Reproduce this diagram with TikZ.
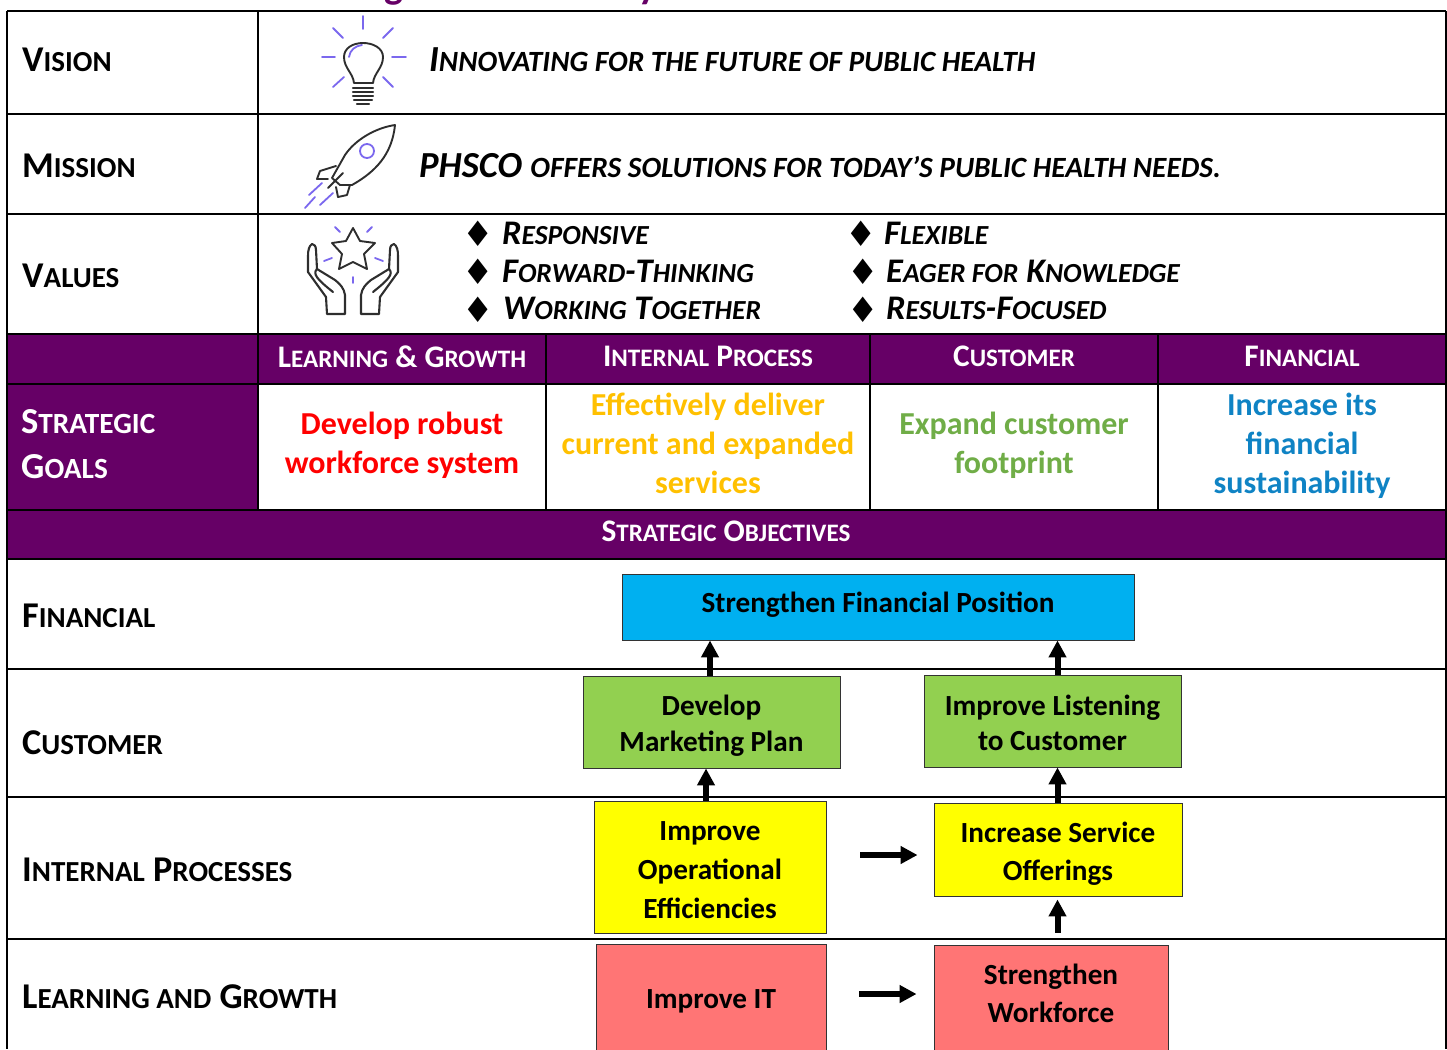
\documentclass[tikz,border=0pt]{standalone}
\usepackage{fontspec}
\setmainfont{Carlito}
\newfontfamily\symfont{DejaVu Sans}
\usetikzlibrary{arrows.meta,calc}
\definecolor{plum}{HTML}{660066}
\definecolor{ray}{HTML}{7B68EE}
\definecolor{icon}{HTML}{2E2E2E}
\definecolor{bluebox}{HTML}{00B0F0}
\definecolor{greenbox}{HTML}{92D050}
\definecolor{yellowbox}{HTML}{FFFF00}
\definecolor{redbox}{HTML}{FF7575}
\definecolor{goalred}{HTML}{FF0000}
\definecolor{goalorange}{HTML}{FFC000}
\definecolor{goalgreen}{HTML}{70AD47}
\definecolor{goalblue}{HTML}{0F83C4}
\makeatletter
\newcommand\low[1]{{\fontsize{\fpeval{0.8*\f@size}}{0}\selectfont #1}}
\newcommand\fsz[2]{\fontsize{#1}{#2}\selectfont}
\makeatother
\tikzset{
  x=1pt,y=-1pt,
  gridline/.style={line width=2pt,black},
  celline/.style={line width=1.4pt,black},
  lefthead/.style={anchor=base west,inner sep=0pt,font=\bfseries\fsz{36.3}{40}},
  lefthead2/.style={anchor=base west,inner sep=0pt,font=\bfseries\fsz{36.6}{40},text=white},
  toptext/.style={anchor=base west,inner sep=0pt,font=\bfseries\itshape\fsz{36.7}{40}},
  valtext/.style={anchor=base west,inner sep=0pt,font=\bfseries\itshape\fsz{34.5}{40}},
  bullet/.style={inner sep=0pt,font=\symfont\fsz{35}{35}},
  colhead/.style={inner sep=0pt,font=\bfseries\fsz{31.4}{36},text=white},
  goal/.style={inner sep=0pt,align=center,font=\bfseries\fsz{32}{39}},
  box/.style={draw=black!80,line width=0.9pt,inner sep=0pt},
  boxtext/.style={inner sep=0pt,align=center,font=\bfseries\fsz{29.2}{38}},
  arr/.style={line width=6pt,black,-{Triangle[length=17pt,width=17pt]}},
  raystroke/.style={ray,line width=1.8pt,line cap=round},
  iconstroke/.style={icon,line width=1.9pt,line join=round,line cap=round},
}
\begin{document}
\begin{tikzpicture}
\useasboundingbox (0,0) rectangle (1447,1049);
% clipped title descenders
\begin{scope}
\clip (0,0) rectangle (1447,6);
\node[inner sep=0pt,anchor=base,text=plum,font=\bfseries\fsz{40}{40}] (titleg) at (394,-1) {g};
\node[inner sep=0pt,anchor=base,text=plum,font=\bfseries\fsz{40}{40}] (titley) at (648,-1) {y};
\end{scope}
% purple bands
\fill[plum] (7,334) rectangle (1446,384);
\fill[plum] (7,384) rectangle (258,510);
\fill[plum] (7,510) rectangle (1446,559);
% grid
\draw[gridline] (7,11) -- (1446,11);
\foreach \yy in {114,214,334,384,510,559,669,797,939} \draw[gridline] (7,\yy) -- (1446,\yy);
\draw[gridline] (7,11) -- (7,1049);
\draw[gridline] (1446,11) -- (1446,1049);
\draw[gridline] (258,11) -- (258,510);
\foreach \xx in {546,870,1158} \draw[celline] (\xx,334) -- (\xx,510);
% left headers
\node[lefthead] (lvision) at (22,71) {V\low{ISION}};
\node[lefthead] (lmission) at (22,177) {M\low{ISSION}};
\node[lefthead] (lvalues) at (22,287.5) {V\low{ALUES}};
\node[lefthead2] (lgoal1) at (21,433) {S\low{TRATEGIC}};
\node[lefthead2] (lgoal2) at (21,478) {G\low{OALS}};
\node[lefthead] (lfin) at (22,627.5) {F\low{INANCIAL}};
\node[lefthead] (lcust) at (22,754) {C\low{USTOMER}};
\node[lefthead] (lint) at (22,881) {I\low{NTERNAL} P\low{ROCESSES}};
\node[lefthead] (llearn) at (22,1008) {L\low{EARNING AND} G\low{ROWTH}};
% top texts
\node[toptext] (tvision) at (429,71) {I\low{NNOVATING FOR THE FUTURE OF PUBLIC HEALTH}};
\node[toptext] (tmission) at (419,177) {PHSCO \low{OFFERS SOLUTIONS FOR TODAY’S PUBLIC HEALTH NEEDS.}};
\node[bullet] (b1) at (478.5,234) {♦};
\node[bullet] (b2) at (478.5,272) {♦};
\node[bullet] (b3) at (478.5,310) {♦};
\node[bullet] (b4) at (861.5,234) {♦};
\node[bullet] (b5) at (863.5,272) {♦};
\node[bullet] (b6) at (863.5,310) {♦};
\node[valtext] (v1) at (502,244) {R\low{ESPONSIVE}};
\node[valtext] (v2) at (502,282) {F\low{ORWARD}-T\low{HINKING}};
\node[valtext] (v3) at (503,319) {W\low{ORKING} T\low{OGETHER}};
\node[valtext] (v4) at (884,244) {F\low{LEXIBLE}};
\node[valtext] (v5) at (886,282) {E\low{AGER FOR} K\low{NOWLEDGE}};
\node[valtext] (v6) at (886,319) {R\low{ESULTS}-F\low{OCUSED}};
% column heads
\node[colhead] (h1) at (402,356.5) {L\low{EARNING} \& G\low{ROWTH}};
\node[colhead] (h2) at (708,356.5) {I\low{NTERNAL} P\low{ROCESS}};
\node[colhead] (h3) at (1014,356.5) {C\low{USTOMER}};
\node[colhead] (h4) at (1302,356.5) {F\low{INANCIAL}};
\node[colhead] (h5) at (726,531.5) {S\low{TRATEGIC} O\low{BJECTIVES}};
% goals
\node[goal,text=goalred] (g1) at (402,445.5) {Develop robust\\workforce system};
\node[goal,text=goalorange] (g2) at (708,443.5) {Effectively deliver\\current and expanded\\services};
\node[goal,text=goalgreen] (g3) at (1014,445.5) {Expand customer\\footprint};
\node[goal,text=goalblue] (g4) at (1302,446) {Increase its\\financial\\sustainability};
% objective boxes
\node[box,fill=bluebox,minimum width=512pt,minimum height=66pt] (fin) at (878,607) {};
\node[boxtext] (fint) at (878,605) {Strengthen Financial Position};
\node[box,fill=greenbox,minimum width=257pt,minimum height=92pt] (dm) at (711.5,722) {};
\node[boxtext,font=\bfseries\fsz{29.2}{35.5}] (dmt) at (711.5,725.5) {Develop\\Marketing Plan};
\node[box,fill=greenbox,minimum width=257pt,minimum height=92pt] (il) at (1052.5,721) {};
\node[boxtext,font=\bfseries\fsz{29.2}{35.5}] (ilt) at (1052.5,723) {Improve Listening\\to Customer};
\node[box,fill=yellowbox,minimum width=232pt,minimum height=132pt] (ioe) at (710,867) {};
\node[boxtext,font=\bfseries\fsz{29.2}{39}] (ioet) at (710,870) {Improve\\Operational\\Efficiencies};
\node[box,fill=yellowbox,minimum width=248pt,minimum height=93pt] (isr) at (1058,849.5) {};
\node[boxtext] (isrt) at (1058,853.5) {Increase Service\\Offerings};
\begin{scope}
\clip (0,0) rectangle (1447,1049);
\node[box,fill=redbox,minimum width=230pt,minimum height=108pt] (iit) at (711,998) {};
\node[box,fill=redbox,minimum width=234pt,minimum height=120pt] (sw) at (1051,1005) {};
\end{scope}
\node[boxtext] (iitt) at (711,1001) {Improve IT};
\node[boxtext] (swt) at (1051,993) {Strengthen\\Workforce};
% arrows
\draw[arr] ([xshift=-1.5pt]dm.north) -- ([xshift=-1.5pt]dm.north |- fin.south);
\draw[arr] ([xshift=5pt]il.north) -- ([xshift=5pt]il.north |- fin.south);
\draw[arr] ([xshift=-4pt]ioe.north) -- ([xshift=-4pt]ioe.north |- dm.south);
\draw[arr] ([xshift=-0.5pt]isr.north) -- ([xshift=-0.5pt]isr.north |- il.south);
\draw[arr,shorten <=12pt,shorten >=3pt] ([xshift=6.5pt]sw.north) -- ([xshift=6.5pt]sw.north |- isr.south);
\draw[arr,shorten <=34pt,shorten >=16pt] ([yshift=12pt]ioe.east) -- ([yshift=12pt]ioe.east -| isr.west);
\draw[arr,shorten <=33pt,shorten >=17pt] ([yshift=4pt]iit.east) -- ([yshift=4pt]iit.east -| sw.west);
% bulb icon
\foreach \a/\b/\c/\d in {363/16/363/29,333/28/343/38,393/28/383/38,322/57/335/57,392/57/406/57,333/87/344/77,393/87/383/77}
  \draw[raystroke] (\a,\b) -- (\c,\d);
\draw[raystroke] (349,57) .. controls (350,50) and (355,46) .. (362,45);
\draw[iconstroke] (354,83) .. controls (353,73) and (344,68) .. (344,57)
  .. controls (344,48) and (353,43) .. (363,43)
  .. controls (373,43) and (383,48) .. (383,57)
  .. controls (383,68) and (374,73) .. (373,83) -- cycle;
\foreach \yy/\xa/\xb in {88/353/373,92/353/373,96/353/373,100/354/372} \draw[iconstroke,line width=2.2pt] (\xa,\yy) -- (\xb,\yy);
\draw[iconstroke,line width=2.4pt] (357,104) -- (369,104);
% rocket icon
\draw[iconstroke] (395,125) .. controls (375,128) and (355,140) .. (345,155)
  -- (332,178) -- (340,185) -- (352,185) .. controls (375,172) and (392,155) .. (395,125) -- cycle;
\draw[iconstroke] (336,166) -- (320,171) -- (317,179) -- (328,179);
\draw[iconstroke] (350,185) -- (347,195) -- (338,197) -- (336,187);
\draw[iconstroke] (343,173) -- (328,188);
\draw[raystroke] (367,151) circle (7);
\draw[raystroke] (322,183) -- (309,195);
\draw[raystroke] (315,197) -- (305,208);
\draw[raystroke] (333,193) -- (320,205);
% star and hands
\draw[iconstroke] (353,228) -- (360,241) -- (375,243) -- (364,254) -- (367,269) -- (353,262)
  -- (339,269) -- (342,254) -- (332,243) -- (346,241) -- cycle;
\foreach \a/\b/\c/\d in {335/227/340/232,372/227/367/232,324/261/332/258,383/261/375/258,353/277/353/283}
  \draw[raystroke] (\a,\b) -- (\c,\d);
\foreach \s/\t in {1/0,-1/706}{
\begin{scope}[xshift=\t pt,xscale=\s]
\draw[iconstroke,line width=2.1pt] (312,244) .. controls (309,246) and (308,250) .. (308,256) -- (308,272)
  -- (326,297) -- (327,314) -- (345,314) -- (345,295) .. controls (344,288) and (340,284) .. (335,280)
  -- (317,269) -- (316,250) .. controls (316,246) and (314,244) .. (312,244) -- cycle;
\draw[iconstroke,line width=2.1pt] (317,269) .. controls (312,274) and (318,280) .. (333,292);
\end{scope}}
\end{tikzpicture}
\end{document}
